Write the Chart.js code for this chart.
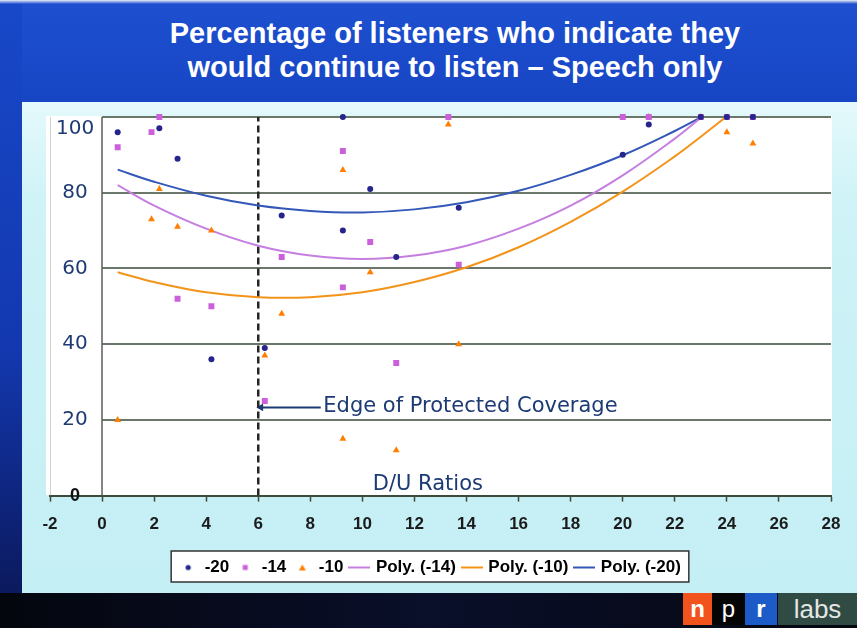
<!DOCTYPE html>
<html lang="en">
<head>
<meta charset="utf-8">
<title>Percentage of listeners who indicate they would continue to listen – Speech only</title>
<script src="https://cdn.jsdelivr.net/npm/chart.js@4.4.1/dist/chart.umd.min.js"></script>
<style>
    html, body { margin: 0; padding: 0; }
    body {
        width: 857px; height: 628px; position: relative; overflow: hidden;
        background: #cdf2f6;
        font-family: 'Liberation Sans', Arial, sans-serif;
    }
    .banner { position: absolute; left: 0; top: 0; width: 857px; height: 102px;
        background: linear-gradient(#e9eef8 0px, #1d4fcf 4px, #1746c4 100%); }
    .left-rim { position: absolute; left: 0; top: 4px; width: 22px; height: 624px;
        background: linear-gradient(#1848c8 0%, #1338b0 55%, #0a1552 100%); }
    .inner { position: absolute; left: 22px; top: 102px; width: 835px; height: 491px;
        background: linear-gradient(#e4f9fb 0%, #cff3f7 20%, #c4eff5 100%); }
    .plot-bg { position: absolute; left: 46px; top: 116px; width: 786px; height: 379px; background: #fff; }
    .footer { position: absolute; left: 0; top: 593px; width: 857px; height: 35px;
        background: linear-gradient(90deg, #04060e, #0a0f2a 50%, #05070f); }
    .logo span { position: absolute; top: 593px; height: 32px; line-height: 32px;
        text-align: center; color: #fff; font-size: 24px; }
    .logo .n { left: 683px; width: 29px; background: #f2521c; font-weight: bold; }
    .logo .p { left: 712px; width: 33px; background: #050505; }
    .logo .r { left: 745px; width: 32px; background: #1d5cc8; font-weight: bold; }
    .logo .labs { left: 778px; width: 79px; background: #2f4b43; color: #e6e6e6; font-size: 26px; }
    .title { position: absolute; left: 60px; top: 16px; width: 790px; text-align: center;
        color: #fff; font: bold 29px/34px 'Liberation Sans', Arial, sans-serif; }
    #listenChart { position: absolute; left: 0; top: 0; }
</style>
</head>
<body>
<div class="banner"></div>
<div class="left-rim"></div>
<div class="inner"></div>
<div class="plot-bg"></div>
<div class="footer"></div>
<div class="logo"><span class="n">n</span><span class="p">p</span><span class="r">r</span><span class="labs">labs</span></div>
<div class="title">Percentage of listeners who indicate they<br>would continue to listen – Speech only</div>
<canvas id="listenChart" width="857" height="628"></canvas>

<script>
// ========================================
// DATA
// ========================================

// D/U ratio of each test condition, shared by the three listener groups
const duRatios = [0.6, 1.9, 2.2, 2.9, 4.2, 6.25, 6.9, 9.25, 9.25, 10.3, 11.3, 13.3, 13.7, 20, 21, 23, 24, 25];
// % who would continue to listen, per group (null = no visible marker)
const listen20 = [96, null, 97, 89, 36, 39, 74, 100, 70, 81, 63, null, 76, 90, 98, 100, 100, 100];
const listen14 = [92, 96, 100, 52, 50, 25, 63, 91, 55, 67, 35, 100, 61, 100, 100, 100, 100, 100];
const listen10 = [20, 73, 81, 71, 70, 37, 48, 86, 15, 59, 12, 98, 40, null, 100, 100, 96, 93];

// polynomial trend lines, read at these D/U ratios
const trendX = [0.6, 2, 4, 6, 8, 10, 12, 14, 16, 18, 20, 22, 23, 24];
const trend20 = [86.1, 82.9, 79.2, 76.6, 75.2, 74.8, 75.6, 77.5, 80.5, 84.7, 89.9, 96.3, 99.9, null];
const trend14 = [82.0, 76.6, 70.5, 66.0, 63.4, 62.5, 63.4, 66.0, 70.5, 76.6, 84.6, 94.3, 99.8, null];
const trend10 = [59.0, 56.4, 53.7, 52.4, 52.4, 53.7, 56.4, 60.3, 65.6, 72.3, 80.3, 89.6, 94.8, 100.2];

const yTicks = [0, 20, 40, 60, 80, 100];
const protectedEdge = 6;          // D/U ratio at the edge of protected coverage
const edgeArrow = { from: 8.4, to: 6.1, level: 23.3 };
const edgeLabel = { x: 8.5, y: 23.5, text: 'Edge of Protected Coverage' };
const axisLabel = { x: 10.4, y: 2.9, text: 'D/U Ratios' };

// ========================================
// STYLE
// ========================================

const BOLD = "'Liberation Sans', Arial, sans-serif";
const colors = {
    g20: '#25258c',
    g14: '#cc5fdc',
    g10: '#ff7f00',
    t20: '#3358b8',
    t14: '#c57fe0',
    t10: '#f29419',
    grid: '#3b4a3b',
    navy: '#1c3a74'
};

const toPoints = (xs, ys) => xs
    .map((x, i) => ({ x: x, y: ys[i] }))
    .filter(p => p.y !== null);

// small legend markers, drawn at the slide's size
function makeMarker(kind, color) {
    const c = document.createElement('canvas');
    const isLine = kind === 'line';
    c.width = isLine ? 22 : 8;
    c.height = isLine ? 4 : 8;
    const g = c.getContext('2d');
    g.fillStyle = color;
    g.strokeStyle = color;
    if (kind === 'circle') {
        g.beginPath(); g.arc(4, 4, 2.6, 0, Math.PI * 2); g.fill();
    } else if (kind === 'rect') {
        g.fillRect(1.5, 1.5, 5, 5);
    } else if (kind === 'triangle') {
        g.beginPath(); g.moveTo(4, 1); g.lineTo(7.5, 7); g.lineTo(0.5, 7); g.closePath(); g.fill();
    } else {
        g.lineWidth = 2;
        g.beginPath(); g.moveTo(0, 2); g.lineTo(22, 2); g.stroke();
    }
    return c;
}

// ========================================
// PLUGINS
// ========================================

// grid lines start at D/U = 0, like the slide (the -2 column holds the labels)
const gridFromZero = {
    id: 'gridFromZero',
    beforeDatasetsDraw(chart) {
        const { ctx, chartArea, scales: { x, y } } = chart;
        const x0 = x.getPixelForValue(0);
        ctx.save();
        ctx.strokeStyle = colors.grid;
        ctx.lineWidth = 1.5;
        yTicks.filter(v => v > 0).forEach(v => {
            const py = Math.round(y.getPixelForValue(v));
            ctx.beginPath();
            ctx.moveTo(x0, py);
            ctx.lineTo(chartArea.right, py);
            ctx.stroke();
        });
        ctx.strokeStyle = '#5c5c5c';
        ctx.beginPath();
        ctx.moveTo(Math.round(x0), y.getPixelForValue(100));
        ctx.lineTo(Math.round(x0), y.getPixelForValue(0));
        ctx.stroke();
        ctx.restore();
    }
};

const annotations = {
    id: 'annotations',
    afterDatasetsDraw(chart) {
        const { ctx, scales: { x, y } } = chart;
        ctx.save();
        ctx.fillStyle = colors.navy;
        ctx.font = "21px 'DejaVu Sans', sans-serif";
        ctx.textAlign = 'left';
        ctx.textBaseline = 'middle';
        [edgeLabel, axisLabel].forEach(a => {
            ctx.fillText(a.text, x.getPixelForValue(a.x), y.getPixelForValue(a.y));
        });
        ctx.restore();
    }
};

const legendFrame = {
    id: 'legendFrame',
    beforeDraw(chart) {
        const boxes = chart.legend && chart.legend.legendHitBoxes;
        if (!boxes || !boxes.length) return;
        const left = Math.min(...boxes.map(b => b.left)) - 9;
        const right = Math.max(...boxes.map(b => b.left + b.width)) + 8;
        const top = boxes[0].top - 8;
        const bottom = boxes[0].top + boxes[0].height + 6;
        const { ctx } = chart;
        ctx.save();
        ctx.fillStyle = '#fff';
        ctx.fillRect(left, top, right - left, bottom - top);
        ctx.strokeStyle = '#333';
        ctx.lineWidth = 1.5;
        ctx.strokeRect(left, top, right - left, bottom - top);
        ctx.restore();
    }
};

// ========================================
// CHART
// ========================================

function initListenChart() {
    const ctx = document.getElementById('listenChart');
    if (!ctx) return;

    const markerSet = (label, data, style, radius, color) => ({
        label: label,
        data: data,
        pointStyle: style,
        pointRadius: radius,
        backgroundColor: color,
        borderColor: color,
        borderWidth: 0,
        clip: 8,
        marker: makeMarker(style, color)
    });

    const trendSet = (label, data, color) => ({
        type: 'line',
        label: label,
        data: data,
        borderColor: color,
        borderWidth: 2,
        pointRadius: 0,
        tension: 0.4,
        marker: makeMarker('line', color)
    });

    const datasets = [
        markerSet('-20', toPoints(duRatios, listen20), 'circle', 3, colors.g20),
        markerSet('-14', toPoints(duRatios, listen14), 'rect', 4.2, colors.g14),
        markerSet('-10', toPoints(duRatios, listen10), 'triangle', 4, colors.g10),
        trendSet('Poly. (-14)', toPoints(trendX, trend14), colors.t14),
        trendSet('Poly. (-10)', toPoints(trendX, trend10), colors.t10),
        trendSet('Poly. (-20)', toPoints(trendX, trend20), colors.t20),
        {
            type: 'line',
            label: 'edge',
            data: [{ x: protectedEdge, y: 0 }, { x: protectedEdge, y: 100 }],
            borderColor: '#262626',
            borderWidth: 2.5,
            borderDash: [7, 4],
            pointRadius: 0
        },
        {
            type: 'line',
            label: 'arrow',
            data: [{ x: edgeArrow.to, y: edgeArrow.level }, { x: edgeArrow.from, y: edgeArrow.level }],
            borderColor: colors.navy,
            backgroundColor: colors.navy,
            borderWidth: 2,
            pointStyle: 'triangle',
            pointRotation: 270,
            pointRadius: [4.5, 0],
            pointBorderWidth: 0
        }
    ];

    new Chart(ctx, {
        type: 'scatter',
        data: { datasets: datasets },
        plugins: [gridFromZero, annotations, legendFrame],
        options: {
            responsive: false,
            animation: false,
            layout: { padding: { top: 117, left: 30, right: 26, bottom: 42 } },
            scales: {
                x: {
                    type: 'linear',
                    min: -2,
                    max: 28,
                    // a little extra room below the tick labels, before the legend
                    afterFit: (scale) => { scale.height += 3; },
                    ticks: {
                        stepSize: 2,
                        padding: 13,
                        color: '#1b1b1b',
                        font: { family: BOLD, size: 17, weight: 'bold' }
                    },
                    grid: { display: true, drawOnChartArea: false, tickLength: 6, tickColor: colors.grid, tickWidth: 1.5 },
                    border: { display: true, color: colors.grid, width: 2 }
                },
                y: {
                    type: 'linear',
                    position: 'left',
                    min: 0,
                    max: 100,
                    ticks: {
                        stepSize: 20,
                        mirror: true,
                        crossAlign: 'center',
                        padding: 6,
                        callback: (v) => v === 100 ? ['', '100'] : String(v),
                        color: (c) => c.tick && c.tick.value === 0 ? '#111' : '#1f3b73',
                        font: (c) => c.tick && c.tick.value === 0
                            ? { family: BOLD, size: 18, weight: 'bold' }
                            : { family: "'DejaVu Sans', sans-serif", size: 20 }
                    },
                    grid: { display: false },
                    border: { display: true, color: 'rgba(110, 130, 110, 0.35)', width: 1 }
                }
            },
            plugins: {
                title: { display: false },
                tooltip: { enabled: false },
                legend: {
                    position: 'bottom',
                    labels: {
                        usePointStyle: true,
                        boxWidth: 16,
                        padding: 8,
                        color: '#111',
                        font: { family: BOLD, size: 17, weight: 'bold' },
                        generateLabels: (chart) => chart.data.datasets
                            .map((ds, i) => ds.marker ? {
                                text: ds.label,
                                pointStyle: ds.marker,
                                datasetIndex: i,
                                fillStyle: ds.borderColor,
                                strokeStyle: ds.borderColor,
                                lineWidth: 0,
                                hidden: false
                            } : null)
                            .filter(Boolean)
                    }
                }
            }
        }
    });
}

if (typeof Chart === 'undefined') {
    console.error('Chart.js not loaded');
} else {
    initListenChart();
}
</script>
</body>
</html>
